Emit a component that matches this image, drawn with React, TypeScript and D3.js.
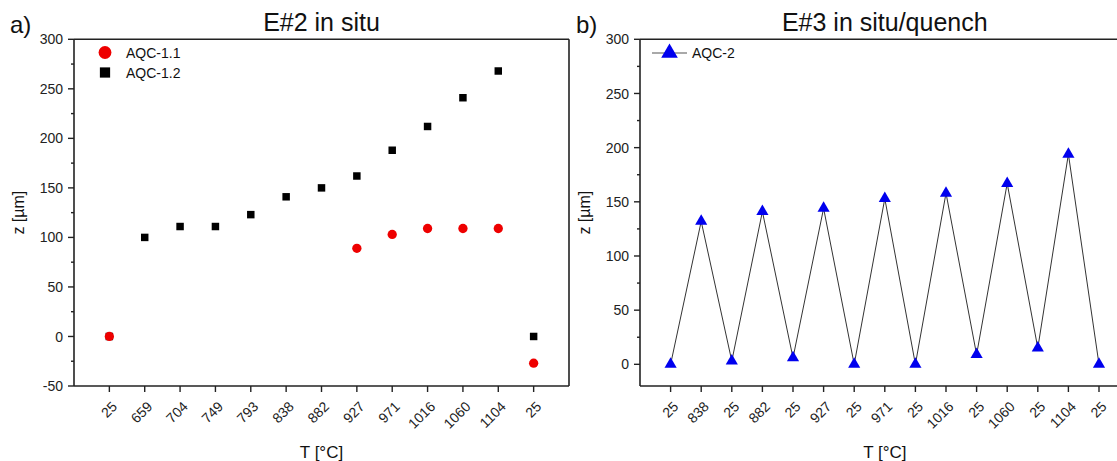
import React from 'react';
import * as d3 from 'd3';

const leftCats = ['25', '659', '704', '749', '793', '838', '882', '927', '971', '1016', '1060', '1104', '25'];
const aqc11: (number | null)[] = [0, null, null, null, null, null, null, 89, 103, 109, 109, 109, -27];
const aqc12 = [0, 100, 111, 111, 123, 141, 150, 162, 188, 212, 241, 268, 0];

const rightCats = ['25', '838', '25', '882', '25', '927', '25', '971', '25', '1016', '25', '1060', '25', '1104', '25'];
const aqc2 = [0, 132, 3, 141, 6, 144, 0, 153, 0, 158, 9, 167, 15, 194, 0];

const leftYTicks = [-50, 0, 50, 100, 150, 200, 250, 300];
const rightYTicks = [0, 50, 100, 150, 200, 250, 300];

const W = 1117;
const H = 461;
const FONT = '"Liberation Sans", Arial, sans-serif';
const AX = '#222';

type PanelProps = {
  x0: number; x1: number; y0: number; y1: number;
  xDomain: [number, number]; yDomain: [number, number];
  cats: string[]; yTicks: number[]; letter: string; title: string;
  children: (x: d3.ScaleLinear<number, number>, y: d3.ScaleLinear<number, number>) => React.ReactNode;
};

function Panel(p: PanelProps) {
  const x = d3.scaleLinear().domain(p.xDomain).range([p.x0, p.x1]);
  const y = d3.scaleLinear().domain(p.yDomain).range([p.y1, p.y0]);
  const minor: number[] = [];
  for (let v = Math.ceil(p.yDomain[0] / 25) * 25; v <= p.yDomain[1]; v += 25) {
    if (v % 50 !== 0) minor.push(v);
  }
  const cx = (p.x0 + p.x1) / 2;
  return (
    <g fontFamily={FONT}>
      {p.children(x, y)}
      {/* frame */}
      <line x1={p.x0} x2={p.x0} y1={p.y0} y2={p.y1} stroke={AX} strokeWidth={1.6} />
      <line x1={p.x0} x2={p.x1} y1={p.y1} y2={p.y1} stroke={AX} strokeWidth={1.6} />
      <line x1={p.x0} x2={p.x1} y1={p.y0} y2={p.y0} stroke={AX} strokeWidth={1.6} />
      <line x1={p.x1} x2={p.x1} y1={p.y0} y2={p.y1} stroke={AX} strokeWidth={1.6} />
      {/* y ticks */}
      {p.yTicks.map((t) => (
        <g key={'y' + t}>
          <line x1={p.x0 - 6} x2={p.x0} y1={y(t)} y2={y(t)} stroke={AX} strokeWidth={1.4} />
          <text x={p.x0 - 11} y={y(t)} dy="0.36em" textAnchor="end" fontSize={14} fill="#222">{t}</text>
        </g>
      ))}
      {minor.map((t) => (
        <line key={'m' + t} x1={p.x0 - 3} x2={p.x0} y1={y(t)} y2={y(t)} stroke={AX} strokeWidth={1.4} />
      ))}
      {/* x ticks */}
      {p.cats.map((c, i) => (
        <g key={'x' + i}>
          <line x1={x(i + 1)} x2={x(i + 1)} y1={p.y1} y2={p.y1 + 6} stroke={AX} strokeWidth={1.4} />
          <text
            transform={`translate(${x(i + 1) + 5},${p.y1 + 18}) rotate(-45)`}
            textAnchor="end"
            dy="0.36em"
            fontSize={14}
            fill="#222"
          >{c}</text>
        </g>
      ))}
      <text x={cx} y={p.y1 + 72} textAnchor="middle" fontSize={17} fill="#111">T [°C]</text>
      <text transform={`translate(${p.x0 - 50},${(p.y0 + p.y1) / 2}) rotate(-90)`} textAnchor="middle" fontSize={16} fill="#111">z [µm]</text>
      <text x={cx} y={p.y0 - 8} textAnchor="middle" fontSize={25} fill="#111">{p.title}</text>
      <text x={p.x0 - 64} y={p.y0 - 6} fontSize={24} fill="#111">{p.letter}</text>
    </g>
  );
}

export default function App() {
  const sq = d3.symbol().type(d3.symbolSquare).size(56)()!;
  const ci = d3.symbol().type(d3.symbolCircle).size(68)()!;
  const tri = d3.symbol().type(d3.symbolTriangle).size(64)()!;
  const ciL = d3.symbol().type(d3.symbolCircle).size(130)()!;
  const sqL = d3.symbol().type(d3.symbolSquare).size(105)()!;
  const triL = d3.symbol().type(d3.symbolTriangle).size(120)()!;

  return (
    <svg width={W} height={H} style={{ position: 'absolute', left: 0, top: 0, background: '#fff' }}>
      <rect width={W} height={H} fill="#fff" />
      <Panel
        x0={74} x1={569} y0={39.3} y1={386}
        xDomain={[0, 14]} yDomain={[-50, 300]}
        cats={leftCats} yTicks={leftYTicks} letter="a)" title="E#2 in situ"
      >
        {(x, y) => (
          <g>
            {aqc12.map((v, i) => (
              <path key={'s' + i} d={sq} transform={`translate(${x(i + 1)},${y(v)})`} fill="#000" />
            ))}
            {aqc11.map((v, i) => v === null ? null : (
              <path key={'c' + i} d={ci} transform={`translate(${x(i + 1)},${y(v)})`} fill="#ee0000" />
            ))}
            <path d={ciL} transform="translate(105,52.5)" fill="#ee0000" />
            <path d={sqL} transform="translate(105,72.5)" fill="#000" />
            <text x={126} y={52.5} dy="0.36em" fontSize={14} fill="#111">AQC-1.1</text>
            <text x={126} y={72.5} dy="0.36em" fontSize={14} fill="#111">AQC-1.2</text>
          </g>
        )}
      </Panel>
      <Panel
        x0={640} x1={1129.6} y0={39.3} y1={386}
        xDomain={[0, 16]} yDomain={[-20, 300]}
        cats={rightCats} yTicks={rightYTicks} letter="b)" title="E#3 in situ/quench"
      >
        {(x, y) => {
          const line = d3.line<number>().x((_, i) => x(i + 1)).y((v) => y(v));
          return (
            <g>
              <path d={line(aqc2)!} fill="none" stroke="#333" strokeWidth={1} />
              {aqc2.map((v, i) => (
                <path key={'t' + i} d={tri} transform={`translate(${x(i + 1)},${y(v)})`} fill="#0000ee" />
              ))}
              <line x1={652} x2={687} y1={53} y2={53} stroke="#555" strokeWidth={1.2} />
              <path d={triL} transform="translate(669.5,53)" fill="#0000ee" />
              <text x={692} y={53} dy="0.36em" fontSize={14} fill="#111">AQC-2</text>
            </g>
          );
        }}
      </Panel>
    </svg>
  );
}
